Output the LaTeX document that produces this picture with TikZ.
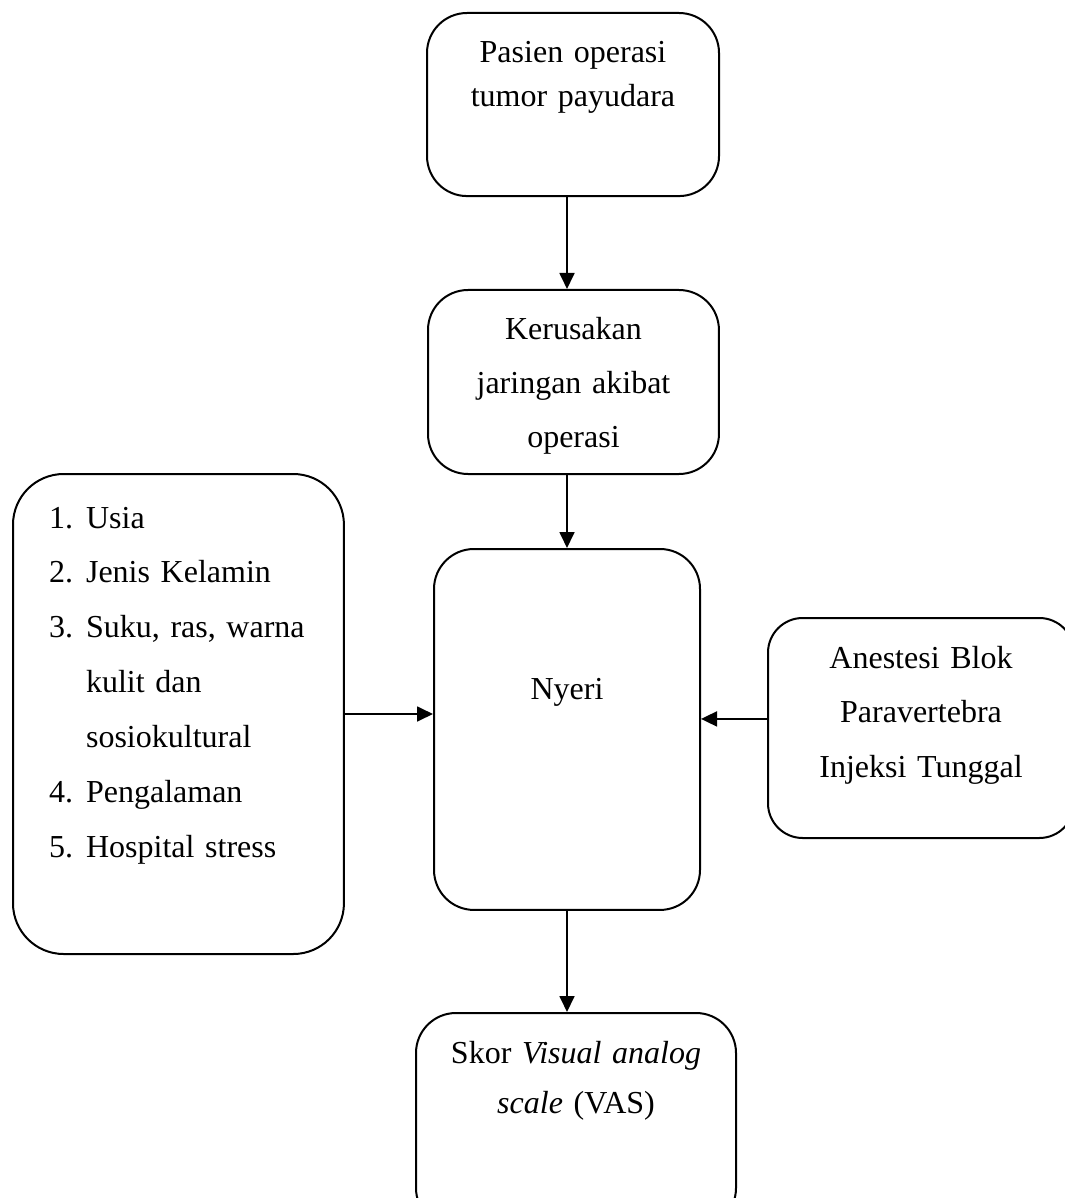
\documentclass[tikz,border=0pt]{standalone}
\usepackage{fontspec}
\setmainfont{Liberation Serif}
\usetikzlibrary{arrows.meta,positioning}

\tikzset{
  kotak/.style={draw, rounded corners=15pt, line width=0.75pt, inner sep=0pt,
    align=center, anchor=north west},
  panah/.style={-{Triangle[width=5.6pt,length=6pt]}, line width=0.75pt},
}

\begin{document}
\begin{tikzpicture}[x=0.375pt,y=-0.375pt]

    \useasboundingbox (0,0) rectangle (1065,1198);
    \clip (0,0) rectangle (1065,1198);

    \node[kotak, text width=109.5pt, text height=18.75pt, text depth=49.9pt,
      font={\fontsize{12}{16.5}\selectfont}] (pasien) at (426,12)
      {Pasien operasi\\tumor payudara};

    \node[kotak, text width=109.1pt, text height=18.4pt, text depth=50.6pt,
      font={\fontsize{12}{20.25}\selectfont}] (kerusakan) at (427,289)
      {Kerusakan\\jaringan akibat\\operasi};

    \node[kotak, text width=99.75pt, text height=56.6pt, text depth=78.75pt,
      font={\fontsize{12}{20.6}\selectfont}] (nyeri) at (433,548)
      {Nyeri};

    \node[kotak, rounded corners=19pt, inner xsep=13.5pt, align=left,
      text width=97.1pt, text height=20.25pt, text depth=159.75pt,
      font={\fontsize{12}{20.6}\selectfont}] (faktor) at (12,473)
      {\makebox[13.9pt][l]{1.}Usia\\
       \makebox[13.9pt][l]{2.}Jenis Kelamin\\
       \makebox[13.9pt][l]{3.}Suku, ras, warna\\
       \hspace*{13.9pt}kulit dan\\
       \hspace*{13.9pt}sosiokultural\\
       \makebox[13.9pt][l]{4.}Pengalaman\\
       \makebox[13.9pt][l]{5.}Hospital stress};

    \node[kotak, rounded corners=13pt, text width=114.75pt, text height=18.75pt,
      text depth=63.75pt, font={\fontsize{12}{20.6}\selectfont}] (anestesi) at (767,617)
      {Anestesi Blok\\Paravertebra\\Injeksi Tunggal};

    \node[kotak, text width=120pt, text height=18.75pt, text depth=61.9pt,
      font={\fontsize{12}{19.1}\selectfont}] (vas) at (415,1012)
      {Skor \textit{Visual analog}\\\textit{scale} (VAS)};

    % panah
    \draw[panah] (pasien.south -| nyeri.north) -- (kerusakan.north -| nyeri.north);
    \draw[panah] (kerusakan.south -| nyeri.north) -- (nyeri.north);
    \draw[panah] (nyeri.south) -- (nyeri.south |- vas.north);
    \draw[panah] (faktor.east) -- (faktor.east -| nyeri.west);
    \draw[panah] ([yshift=3.4pt]anestesi.west) -- ([yshift=3.4pt]anestesi.west -| nyeri.east);

\end{tikzpicture}
\end{document}
